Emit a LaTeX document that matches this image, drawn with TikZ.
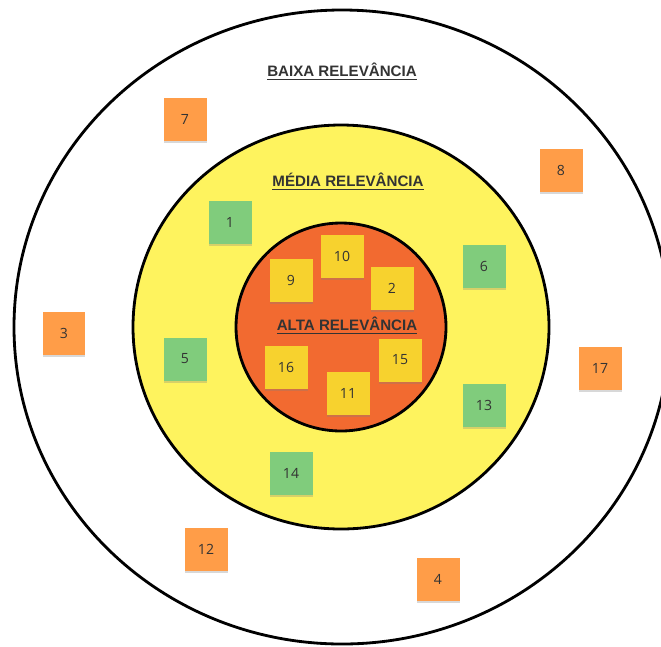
\documentclass[tikz,border=0pt]{standalone}
\usepackage{fontspec}
\setmainfont{Open Sans}
\newfontfamily\titlefont{Liberation Sans}
\usetikzlibrary{shadows}

\definecolor{ringyellow}{HTML}{FEF35E}
\definecolor{ringorange}{HTML}{F26A30}
\definecolor{notaorange}{HTML}{FF9D48}
\definecolor{notagreen}{HTML}{80CC7C}
\definecolor{notayellow}{HTML}{F7D22E}
\definecolor{inktext}{HTML}{333333}

\tikzset{
  ring/.style={draw=black, line width=1.6pt},
  nota/.style={minimum size=0.86cm, inner sep=0pt, text=inktext,
    font=\fontsize{8}{10}\selectfont,
    drop shadow={shadow xshift=0pt, shadow yshift=-1.2pt, opacity=0.3}},
  notaorange/.style={nota, fill=notaorange},
  notagreen/.style={nota, fill=notagreen},
  notayellow/.style={nota, fill=notayellow},
  titulo/.style={text=inktext, font=\titlefont\bfseries\fontsize{8.6}{10}\selectfont}
}

\begin{document}
\begin{tikzpicture}[x=0.02cm, y=-0.02cm]
  \useasboundingbox (0,0) rectangle (661,646);
  \fill[white] (0,0) rectangle (661,646);

  \draw[ring, fill=white] (342,327) ellipse [x radius=328, y radius=317];
  \draw[ring, fill=ringyellow] (341,327) ellipse [x radius=208, y radius=202];
  \draw[ring, fill=ringorange] (341,327) ellipse [x radius=105, y radius=104];

  \node[titulo] (baixa) at (342,72) {\underline{BAIXA RELEVÂNCIA}};
  \node[titulo] (media) at (348,182) {\underline{MÉDIA RELEVÂNCIA}};
  \node[titulo] (alta) at (347,326) {\underline{ALTA RELEVÂNCIA}};

  \node[notaorange] (n7) at (185,119) {7};
  \node[notaorange] (n8) at (561,170) {8};
  \node[notaorange] (n3) at (64,333) {3};
  \node[notaorange] (n17) at (600,368) {17};
  \node[notaorange] (n12) at (206,549) {12};
  \node[notaorange] (n4) at (438,579) {4};

  \node[notagreen] (n1) at (230,222) {1};
  \node[notagreen] (n6) at (484,266) {6};
  \node[notagreen] (n5) at (185,359) {5};
  \node[notagreen] (n13) at (484,405) {13};
  \node[notagreen] (n14) at (291,473) {14};

  \node[notayellow] (n10) at (342,256) {10};
  \node[notayellow] (n9) at (291,280) {9};
  \node[notayellow] (n2) at (392,288) {2};
  \node[notayellow] (n16) at (286,367) {16};
  \node[notayellow] (n15) at (400,360) {15};
  \node[notayellow] (n11) at (348,393) {11};
\end{tikzpicture}
\end{document}
